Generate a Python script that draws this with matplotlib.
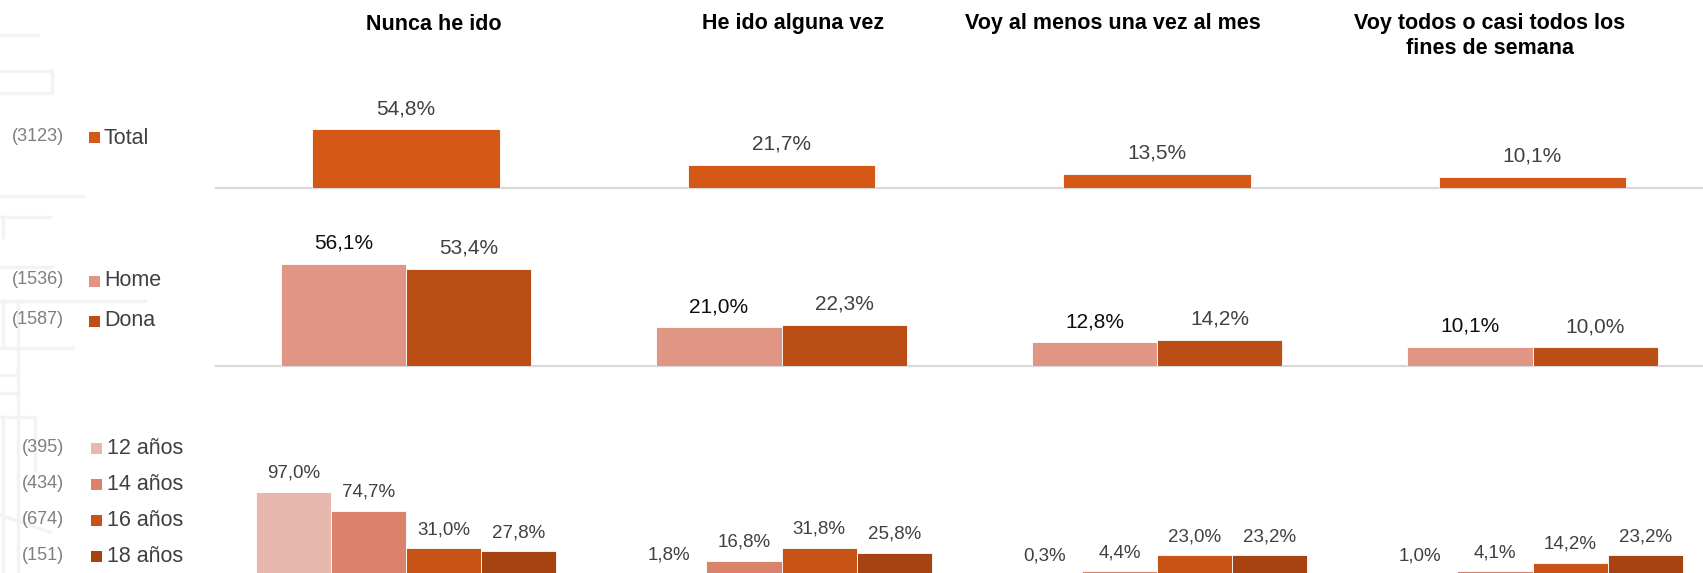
import matplotlib.pyplot as plt
from matplotlib.patches import Rectangle
from matplotlib.lines import Line2D

plt.rcParams['font.family'] = ['Liberation Sans', 'DejaVu Sans']

# respuestas (columnas)
categorias = ["Nunca he ido", "He ido alguna vez", "Voy al menos una vez al mes",
              "Voy todos o casi todos los\nfines de semana"]

# porcentajes por grupo
total = [54.8, 21.7, 13.5, 10.1]
home = [56.1, 21.0, 12.8, 10.1]
dona = [53.4, 22.3, 14.2, 10.0]
edad_12 = [97.0, 1.8, 0.3, 1.0]
edad_14 = [74.7, 16.8, 4.4, 4.1]
edad_16 = [31.0, 31.8, 23.0, 14.2]
edad_18 = [27.8, 25.8, 23.2, 23.2]

# etiquetas de la leyenda y tamaño de muestra
total_label = ["Total"]
total_n = [3123]
sexo_labels = ["Home", "Dona"]
sexo_n = [1536, 1587]
edad_labels = ["12 años", "14 años", "16 años", "18 años"]
edad_n = [395, 434, 674, 151]

c_total = "#d55817"
c_sexo = ["#e09585", "#ba4e14"]
c_edad = ["#e8b8ae", "#db826b", "#c75316", "#a64310"]

W, H = 1703, 573
fig = plt.figure(figsize=(W / 100, H / 100), dpi=100)
fig.patch.set_facecolor("white")

# trazos de fondo muy tenues en el margen izquierdo
fondo = "#f3f3f3"
trazos = [
    [(0, 38), (35, 35)], [(0, 52, 52, 0), (71, 71, 93, 93)],
    [(0, 83), (196, 196)], [(0, 50), (217, 217)], [(3, 3), (217, 237)],
    [(0, 51), (267, 267)], [(0, 145), (301, 301)], [(18, 18), (301, 573)],
    [(3, 3), (301, 345)], [(0, 73), (348, 348)], [(0, 18), (375, 375)],
    [(0, 18), (393, 393)], [(0, 35, 35), (417, 417, 470)], [(3, 3), (417, 573)],
    [(0, 50), (515, 532)],
]
for xs, ys in trazos:
    fig.add_artist(Line2D([x / W for x in xs], [1 - y / H for y in ys],
                          color=fondo, lw=2.5, zorder=0))

x0, paso = 406, 375.5
izq = 216


def panel(base, escala, ymax, linea=True):
    alto = ymax * escala
    ax = fig.add_axes([izq / W, (H - base) / H, (W - izq) / W, alto / H])
    ax.set_xlim(-(x0 - izq) / paso, (W - x0) / paso)
    ax.set_ylim(0, ymax)
    for s in ax.spines.values():
        s.set_visible(False)
    if linea:
        ax.spines["bottom"].set_visible(True)
        ax.spines["bottom"].set_color("#d9d9d9")
        ax.spines["bottom"].set_linewidth(1.6)
    ax.set_xticks([])
    ax.set_yticks([])
    ax.patch.set_alpha(0)
    return ax


def fmt(v):
    return f"{v:.1f}".replace(".", ",") + "%"


def barras(ax, series, colores, ancho, etiquetas_col, fs, off):
    n = len(series)
    for j, (vals, col) in enumerate(zip(series, colores)):
        pos = [i + (j - (n - 1) / 2) * ancho for i in range(len(vals))]
        ax.bar(pos, vals, width=ancho, color=col, edgecolor="white",
               linewidth=0.6, zorder=3)
        for p, v in zip(pos, vals):
            ax.annotate(fmt(v), xy=(p, v), xytext=(0, off), textcoords="offset points",
                        ha="center", va="baseline", fontsize=fs,
                        color=etiquetas_col[j], annotation_clip=False)


ax1 = panel(188, 1.07, 60)
barras(ax1, [total], [c_total], 0.5, ["#404040"], 15, 11)

ax2 = panel(365.5, 1.81, 60)
barras(ax2, [home, dona], c_sexo, 0.333, ["#0d0d0d", "#404040"], 15, 11)

ax3 = panel(575, 0.86, 100, linea=False)
barras(ax3, [edad_12, edad_14, edad_16, edad_18], c_edad, 0.2,
       ["#404040"] * 4, 13.5, 10)

# títulos de columna
for txt, xc in zip(categorias, [434, 793, 1113, 1490]):
    fig.text(xc / W, 1 - 13.5 / H, txt, ha="center", va="top",
             fontsize=15.5, fontweight="bold", color="black", linespacing=1.25)


# leyenda de la izquierda
def leyenda(labels, ns, colores, ys, xq, xt):
    for lab, n, col, y in zip(labels, ns, colores, ys):
        fig.add_artist(Rectangle((xq / W, 1 - (y + 5.5) / H), 11 / W, 11 / H,
                                 facecolor=col, edgecolor="none",
                                 transform=fig.transFigure))
        fig.text(xt / W, 1 - y / H, lab, ha="left", va="center",
                 fontsize=15.5, color="#404040")
        fig.text(64 / W, 1 - (y - 1) / H, f"({n})", ha="right", va="center",
                 fontsize=13, color="#7f7f7f")


leyenda(total_label, total_n, [c_total], [138], 89, 104)
leyenda(sexo_labels, sexo_n, c_sexo, [281, 321], 89, 104)
leyenda(edad_labels, edad_n, c_edad, [448, 484, 520, 556], 91, 107)

fig.savefig("out.png", dpi=100, facecolor="white")
